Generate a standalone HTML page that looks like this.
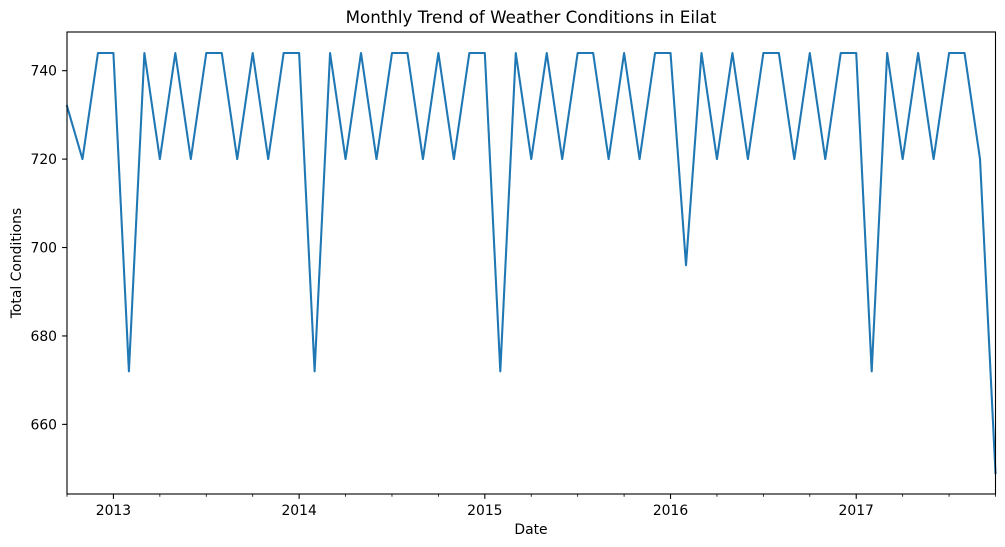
<!DOCTYPE html>
<html><head><meta charset="utf-8"><style>
html,body{margin:0;padding:0;background:#fff;}
svg{display:block;font-family:"DejaVu Sans","Liberation Sans",sans-serif;}
</style></head><body>
<svg id="chart" width="1005" height="547" xmlns="http://www.w3.org/2000/svg">
<text x="531" y="23" font-size="16.7" text-anchor="middle">Monthly Trend of Weather Conditions in Eilat</text>
<text x="531" y="534" font-size="13.9" text-anchor="middle">Date</text>
<text x="0" y="0" font-size="13.9" text-anchor="middle" transform="translate(21,263) rotate(-90)">Total Conditions</text>
<g id="axes"></g>
</svg>
<script>
const startYear = 2012, startMonth = 10;
const values = [732,720,744,
744,672,744,720,744,720,744,744,720,744,720,744,
744,672,744,720,744,720,744,744,720,744,720,744,
744,672,744,720,744,720,744,744,720,744,720,744,
744,696,744,720,744,720,744,744,720,744,720,744,
744,672,744,720,744,720,744,744,720,649];
const yTicks = [660,680,700,720,740];
const yearLabels = ["2013","2014","2015","2016","2017"];

const L=67,R=995.5,T=32,B=494;
const n=values.length;
const vmin=Math.min(...values), vmax=Math.max(...values), pad=(vmax-vmin)*0.05;
const y0=vmin-pad, y1=vmax+pad;
const xs=i=>L+i*(R-L)/(n-1);
const ys=v=>B-(v-y0)/(y1-y0)*(B-T);
const NS="http://www.w3.org/2000/svg";
const g=document.getElementById('axes');
function mk(t,a){const e=document.createElementNS(NS,t);for(const k in a)e.setAttribute(k,a[k]);g.appendChild(e);return e;}

let d=values.map((v,i)=>(i?'L':'M')+xs(i).toFixed(2)+','+ys(v).toFixed(2)).join('');
const line=mk('path',{d:d,fill:'none',stroke:'#1f77b4','stroke-width':2.08,'stroke-linejoin':'round','stroke-linecap':'square'});



const frame=mk('rect',{x:L,y:T,width:R-L,height:B-T,fill:'none',stroke:'#000','stroke-width':1.1});



yTicks.forEach(v=>{
  const y=ys(v);
  const t=mk('line',{x1:L-4.9,x2:L,y1:y,y2:y,stroke:'#000','stroke-width':1.1});
  
  
  const tx=mk('text',{x:L-10,y:y+5,'font-size':13.9,'text-anchor':'end'});
  tx.textContent=v;
  
  
});

for(let i=0;i<n;i++){
  const m=(startMonth-1+i)%12;
  if(m%3!==0)continue;
  const x=xs(i);
  const major=m===0;
  const t=mk('line',{x1:x,x2:x,y1:B,y2:B+(major?4.9:2.8),stroke:'#000','stroke-width':major?1.1:0.8});
  
  
  if(major){
    const yr=startYear+Math.floor((startMonth-1+i)/12);
    const lbl=yearLabels[yr-2013];
    if(lbl){
      const tx=mk('text',{x:x,y:B+21,'font-size':13.9,'text-anchor':'middle'});
      tx.textContent=lbl;
      
      
    }
  }
}
</script>
</body></html>
